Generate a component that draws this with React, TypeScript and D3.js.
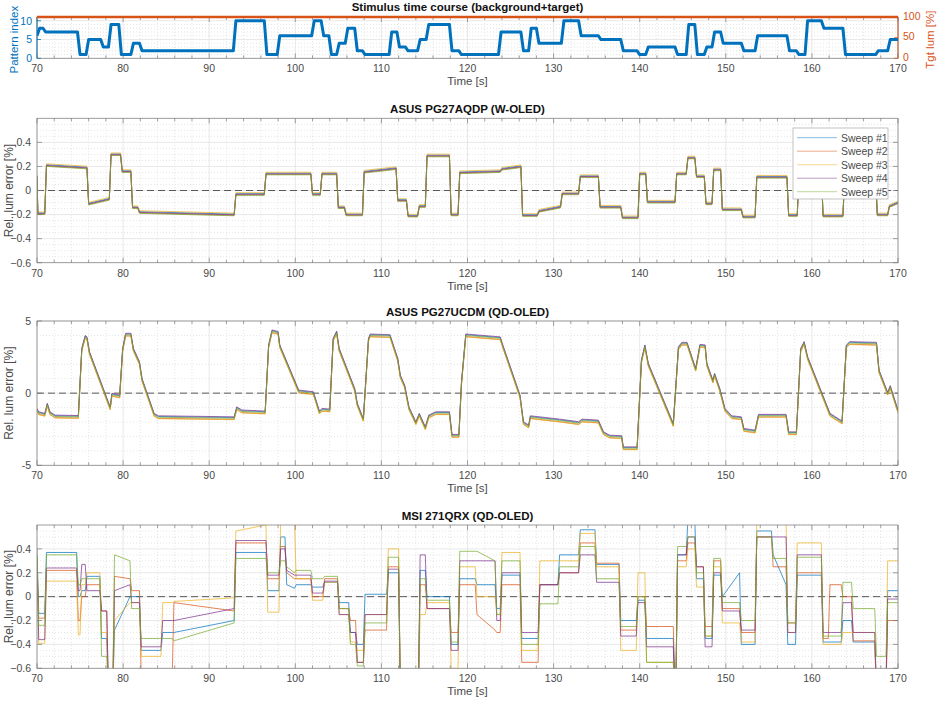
import React from "react";
import * as d3 from "d3";

const W = 938;
const H = 702;
const X0 = 37;
const X1 = 898;
const FONT = "'Liberation Sans', Arial, Helvetica, sans-serif";

const xTicks = [70, 80, 90, 100, 110, 120, 130, 140, 150, 160, 170];
const sweepNames = ["Sweep #1", "Sweep #2", "Sweep #3", "Sweep #4", "Sweep #5"];
const sweepColors = ["#0072BD", "#D95319", "#EDB120", "#7E2F8E", "#77AC30"];

type Lv = number | [number, number];

// stimulus: pattern index per segment (segment start times in s)
const stimStart = [70.0, 70.3, 71.0, 75.0, 76.0, 77.7, 78.6, 79.8, 81.2, 82.2, 93.1, 96.7, 98.2, 102.2, 103.3, 104.2, 105.1, 106.1, 107.2, 108.1, 111.2, 112.1, 113.1, 114.5, 115.5, 118.2, 119.3, 123.9, 126.5, 127.4, 128.3, 131.2, 133.2, 135.5, 138.1, 140.0, 141.0, 144.4, 145.7, 146.7, 147.8, 148.7, 149.7, 152.1, 153.7, 157.4, 158.5, 159.5, 161.4, 163.9, 167.7, 169.1];
const stimIndex = [6, 8, 7, 1, 5, 3, 9, 1, 4, 2, 10, 1, 6, 10, 6, 1, 4, 8, 2, 1, 7, 3, 2, 5, 9, 2, 1, 7, 2, 8, 4, 10, 6, 5, 2, 1, 3, 1, 9, 1, 3, 7, 4, 2, 6, 2, 1, 10, 8, 1, 2, 5];
const tgtLum = 100;

// ASUS PG27AQDP (W-OLED)
const woledStart = [70.0, 70.1, 71.1, 76.0, 78.6, 79.9, 81.1, 81.9, 93.1, 96.6, 102.0, 103.1, 105.0, 105.9, 108.0, 111.9, 113.1, 114.4, 115.3, 118.1, 119.1, 124.0, 126.4, 128.3, 131.0, 133.1, 135.4, 138.0, 140.0, 140.9, 144.3, 145.6, 146.6, 147.7, 148.6, 149.6, 152.0, 153.6, 157.3, 158.5, 161.3, 163.8, 167.6, 169.0];
const woledLevel: Lv[] = [0.12, -0.19, [0.21, 0.19], [-0.11, -0.07], 0.3, 0.16, -0.14, [-0.18, -0.2], -0.03, 0.14, -0.03, 0.14, -0.14, -0.2, [0.155, 0.185], -0.08, -0.21, -0.13, 0.29, -0.2, [0.15, 0.16], [0.18, 0.2], -0.205, [-0.17, -0.135], -0.025, 0.118, -0.136, -0.224, 0.14, -0.094, 0.14, 0.273, 0.118, -0.108, 0.174, -0.157, -0.218, 0.113, -0.205, 0.15, -0.21, 0.1, -0.2, [-0.13, -0.1]];
const woledSweepOffset = [0.004, -0.006, 0.012, -0.002, -0.01];

// ASUS PG27UCDM (QD-OLED)
const qdTime = [70.0, 70.2, 70.9, 71.2, 71.5, 72.1, 74.8, 75.2, 75.6, 75.8, 76.1, 78.5, 78.7, 79.6, 79.95, 80.3, 80.9, 81.2, 81.9, 82.2, 83.6, 84.1, 92.9, 93.2, 93.8, 96.5, 96.9, 97.3, 98.0, 98.2, 100.4, 102.1, 102.8, 103.1, 104.0, 104.4, 104.8, 105.1, 106.9, 107.2, 107.9, 108.5, 108.7, 111.0, 111.9, 112.2, 112.7, 113.2, 114.0, 114.4, 115.1, 115.5, 116.3, 117.9, 118.2, 119.0, 119.3, 119.8, 123.8, 124.1, 126.1, 126.5, 127.1, 127.3, 130.7, 132.9, 133.3, 135.2, 135.8, 136.5, 137.9, 138.1, 139.7, 140.2, 140.6, 141.0, 143.9, 144.5, 144.9, 145.5, 146.5, 147.0, 147.6, 147.8, 148.5, 148.7, 149.3, 149.9, 150.7, 151.8, 152.1, 153.4, 153.8, 157.0, 157.3, 158.2, 158.7, 159.1, 159.5, 162.1, 163.5, 164.0, 164.4, 167.5, 167.8, 168.8, 169.1, 170.0];
const qdValue = [-1.16, -1.39, -1.5, -0.8, -1.39, -1.62, -1.65, 3.0, 3.9, 3.8, 2.77, -1.05, -0.11, -0.23, 3.0, 4.05, 4.05, 3.0, 2.08, 0.92, -1.5, -1.67, -1.74, -1.05, -1.27, -1.34, 3.24, 4.28, 4.17, 3.24, 0.11, 0.0, -1.34, -1.16, -1.2, 3.7, 4.2, 3.0, 0.23, -0.8, -1.85, 3.7, 4.0, 3.95, 2.31, 1.15, 0.46, -1.05, -2.08, -1.5, -2.43, -1.62, -1.39, -1.39, -2.96, -2.96, 0.69, 4.0, 3.8, 3.24, -0.23, -2.08, -2.31, -1.67, -1.9, -2.08, -1.9, -1.97, -2.78, -3.01, -3.05, -3.82, -3.82, 2.2, 3.24, 1.97, -2.2, 3.12, 3.42, 3.42, 1.62, 3.28, 3.24, 1.97, 0.81, 1.27, 0.23, -1.16, -1.67, -1.74, -2.55, -2.66, -1.57, -1.57, -2.78, -2.78, 3.0, 3.47, 2.43, -1.5, -2.03, 3.24, 3.47, 3.42, 1.5, -0.04, 0.42, -1.27];
const qdSweepOffset = [0.05, -0.08, -0.1, 0.1, 0.0];

// MSI 271QRX (QD-OLED), one level per segment and sweep
const msiStart = [70.0, 70.2, 71.1, 74.8, 75.2, 75.8, 77.5, 78.3, 79.0, 81.0, 82.1, 84.6, 85.9, 93.1, 96.8, 98.3, 99.0, 100.1, 102.0, 103.4, 105.1, 106.4, 107.2, 108.1, 110.8, 112.2, 114.5, 115.3, 118.1, 119.1, 121.1, 123.4, 124.0, 126.3, 128.4, 130.7, 133.1, 135.0, 137.8, 139.8, 140.8, 144.1, 144.4, 145.6, 146.6, 147.6, 148.6, 149.6, 151.8, 153.6, 155.5, 157.2, 158.3, 161.3, 162.1, 163.6, 164.8, 167.5, 168.8];
const msiSweep1: Lv[] = [0.35, -0.14, 0.37, 0.0, 0.05, 0.17, -0.35, -0.8, [-0.28, 0.0], 0.0, -0.45, -0.3, [-0.3, -0.2], 0.37, 0.05, 0.5, [0.1, 0.07], 0.1, 0.08, 0.12, -0.05, -0.3, -0.4, 0.02, 0.2, -0.8, 0.22, 0.0, -0.4, 0.15, 0.1, -0.1, 0.18, -0.35, 0.1, 0.35, 0.56, 0.27, -0.2, -0.03, -0.35, -0.8, 0.35, 0.65, 0.15, -0.35, 0.18, [0.0, 0.2], -0.4, 0.55, [0.35, 0.1], -0.4, 0.18, -0.38, -0.38, -0.2, -0.38, -0.8, 0.05];
const msiSweep2: Lv[] = [0.3, -0.18, 0.22, -0.2, 0.0, 0.1, -0.12, -0.8, [0.17, 0.15], 0.05, -0.65, -0.7, [-0.05, -0.12], 0.45, 0.15, 0.42, [0.2, 0.15], 0.15, 0.0, 0.15, -0.1, -0.2, -0.55, -0.28, 0.25, -0.8, 0.1, -0.1, -0.3, 0.1, [-0.15, -0.28], -0.3, 0.1, -0.55, 0.1, 0.2, 0.45, 0.28, -0.28, 0.0, -0.25, -0.8, 0.3, 0.45, 0.25, -0.25, 0.3, -0.1, -0.3, 0.5, 0.25, -0.22, 0.2, -0.35, 0.1, 0.0, -0.37, -0.8, -0.2];
const msiSweep3: Lv[] = [0.2, -0.39, 0.13, -0.32, 0.1, 0.2, -0.3, -0.8, [-0.2, -0.05], -0.05, -0.5, -0.05, [-0.04, -0.01], [0.55, 0.6], -0.13, 0.65, 0.65, 0.15, -0.03, 0.12, -0.15, -0.38, -0.45, -0.15, 0.4, -0.8, -0.15, -0.05, -0.6, 0.25, 0.0, -0.15, 0.37, -0.45, 0.3, 0.3, 0.53, 0.25, -0.45, 0.2, -0.55, -0.8, 0.25, 0.4, 0.08, -0.33, 0.25, -0.22, -0.38, 0.65, 0.65, -0.3, 0.45, -0.4, -0.4, -0.3, -0.3, -0.8, 0.3];
const msiSweep4: Lv[] = [0.3, -0.36, 0.24, 0.05, 0.27, 0.05, -0.12, -0.8, [0.05, 0.1], -0.05, -0.42, -0.2, [-0.2, -0.1], 0.47, 0.18, 0.4, [0.22, 0.18], 0.18, 0.03, 0.13, -0.15, -0.3, -0.55, -0.15, 0.23, -0.8, 0.35, -0.1, -0.45, 0.3, 0.3, -0.2, 0.2, -0.3, 0.1, 0.2, 0.35, 0.12, -0.33, -0.05, -0.42, -0.8, 0.35, 0.5, 0.25, -0.42, 0.2, -0.12, -0.28, 0.5, 0.5, -0.3, 0.35, -0.3, -0.3, -0.05, -0.3, -0.8, -0.02];
const msiSweep5: Lv[] = [0.4, -0.24, 0.35, 0.1, 0.15, 0.15, -0.5, -0.8, [0.35, 0.3], -0.1, -0.35, -0.35, [-0.37, -0.22], 0.32, 0.2, 0.3, [0.25, 0.2], 0.22, 0.15, 0.17, -0.1, -0.4, -0.58, -0.22, 0.33, -0.8, 0.15, -0.03, -0.38, 0.38, [0.38, 0.3], -0.15, 0.3, -0.4, -0.06, 0.25, 0.42, 0.15, -0.25, 0.0, -0.55, -0.8, 0.42, 0.5, 0.2, -0.33, 0.32, -0.05, -0.2, 0.5, 0.32, -0.22, 0.33, -0.33, -0.33, 0.12, -0.1, -0.5, -0.05];
const msiSweeps = [msiSweep1, msiSweep2, msiSweep3, msiSweep4, msiSweep5];

const x = d3.scaleLinear().domain([70, 170]).range([X0, X1]);

function stepPoints(starts: number[], levels: Lv[], ramp: number): [number, number][] {
  const pts: [number, number][] = [];
  starts.forEach((t0, i) => {
    const lv = levels[i];
    const a = Array.isArray(lv) ? lv[0] : lv;
    const b = Array.isArray(lv) ? lv[1] : lv;
    const t1 = i + 1 < starts.length ? starts[i + 1] - ramp : 170;
    pts.push([t0, a], [Math.max(t1, t0), b]);
  });
  return pts;
}

type Series = { color: string; width: number; points: [number, number][] };

type PanelProps = {
  id: string;
  top: number;
  bottom: number;
  domain: [number, number];
  ticks: number[];
  fmt: (v: number) => string;
  minorStep: number;
  title: string;
  series: Series[];
  legend?: boolean;
};

function Grid({ y, top, bottom, ticks, minorY }) {
  const minorX = d3.range(72, 170, 2).filter((v) => v % 10 !== 0);
  return (
    <g>
      {minorX.map((v) => (
        <line key={"mx" + v} x1={x(v)} x2={x(v)} y1={top} y2={bottom} stroke="#d4d4d4" strokeWidth={0.6} strokeDasharray="1,2" />
      ))}
      {minorY.map((v) => (
        <line key={"my" + v} x1={X0} x2={X1} y1={y(v)} y2={y(v)} stroke="#d4d4d4" strokeWidth={0.6} strokeDasharray="1,2" />
      ))}
      {xTicks.map((v) => (
        <line key={"gx" + v} x1={x(v)} x2={x(v)} y1={top} y2={bottom} stroke="#e2e2e2" strokeWidth={0.8} />
      ))}
      {ticks.map((v) => (
        <line key={"gy" + v} x1={X0} x2={X1} y1={y(v)} y2={y(v)} stroke="#e2e2e2" strokeWidth={0.8} />
      ))}
    </g>
  );
}

function XAxis({ top, bottom, labelOffset }) {
  const minorX = d3.range(72, 170, 2).filter((v) => v % 10 !== 0);
  return (
    <g>
      {minorX.map((v) => (
        <g key={"mt" + v}>
          <line x1={x(v)} x2={x(v)} y1={bottom} y2={bottom - 3} stroke="#7a7a7a" strokeWidth={0.7} />
          <line x1={x(v)} x2={x(v)} y1={top} y2={top + 3} stroke="#7a7a7a" strokeWidth={0.7} />
        </g>
      ))}
      {xTicks.map((v) => (
        <g key={"xt" + v}>
          <line x1={x(v)} x2={x(v)} y1={bottom} y2={bottom - 5} stroke="#7a7a7a" strokeWidth={0.7} />
          <line x1={x(v)} x2={x(v)} y1={top} y2={top + 5} stroke="#7a7a7a" strokeWidth={0.7} />
          <text x={x(v)} y={bottom + labelOffset} textAnchor="middle" fontSize={10.5} fill="#4a4a4a">
            {v}
          </text>
        </g>
      ))}
      <text x={(X0 + X1) / 2} y={bottom + labelOffset + 13} textAnchor="middle" fontSize={11.5} fill="#4a4a4a">
        Time [s]
      </text>
    </g>
  );
}

function Panel({ id, top, bottom, domain, ticks, fmt, minorStep, title, series, legend }: PanelProps) {
  const y = d3.scaleLinear().domain(domain).range([bottom, top]);
  const minorY = d3
    .range(domain[0], domain[1] + 1e-9, minorStep)
    .filter((v) => !ticks.some((t) => Math.abs(t - v) < 1e-9));
  const line = d3
    .line<[number, number]>()
    .x((d) => x(d[0]))
    .y((d) => y(d[1]));
  return (
    <g>
      <defs>
        <clipPath id={id}>
          <rect x={X0} y={top} width={X1 - X0} height={bottom - top} />
        </clipPath>
      </defs>
      <rect x={X0} y={top} width={X1 - X0} height={bottom - top} fill="#fff" />
      <Grid y={y} top={top} bottom={bottom} ticks={ticks} minorY={minorY} />
      <line x1={X0} x2={X1} y1={y(0)} y2={y(0)} stroke="#333" strokeWidth={0.8} strokeDasharray="7,4" />
      <g clipPath={`url(#${id})`}>
        {series.map((s, i) => (
          <path key={i} d={line(s.points) || ""} fill="none" stroke={s.color} strokeWidth={s.width} strokeLinejoin="round" opacity={0.9} />
        ))}
      </g>
      <rect x={X0} y={top} width={X1 - X0} height={bottom - top} fill="none" stroke="#8a8a8a" strokeWidth={0.8} />
      {ticks.map((v) => (
        <g key={"yt" + v}>
          <line x1={X0} x2={X0 + 5} y1={y(v)} y2={y(v)} stroke="#7a7a7a" strokeWidth={0.7} />
          <line x1={X1} x2={X1 - 5} y1={y(v)} y2={y(v)} stroke="#7a7a7a" strokeWidth={0.7} />
          <text x={X0 - 6} y={y(v) + 3.8} textAnchor="end" fontSize={10.5} fill="#4a4a4a">
            {fmt(v)}
          </text>
        </g>
      ))}
      <XAxis top={top} bottom={bottom} labelOffset={14} />
      <text x={(X0 + X1) / 2} y={top - 5} textAnchor="middle" fontSize={11.5} fontWeight="bold" fill="#111">
        {title}
      </text>
      <text transform={`translate(13,${(top + bottom) / 2}) rotate(-90)`} textAnchor="middle" fontSize={12} fill="#4a4a4a">
        Rel. lum error [%]
      </text>
      {legend && (
        <g>
          <rect x={793} y={128} width={95} height={71} fill="#fff" stroke="#b4b4b4" strokeWidth={0.8} />
          {sweepNames.map((n, i) => (
            <g key={n}>
              <line x1={797} x2={837} y1={137.7 + i * 13.5} y2={137.7 + i * 13.5} stroke={sweepColors[i]} strokeWidth={0.8} opacity={0.6} />
              <text x={841} y={141.5 + i * 13.5} fontSize={10.5} fill="#4a4a4a">
                {n}
              </text>
            </g>
          ))}
        </g>
      )}
    </g>
  );
}

function StimulusPanel() {
  const top = 17;
  const bottom = 58.3;
  const yL = d3.scaleLinear().domain([0, 11]).range([bottom, top]);
  const yR = d3.scaleLinear().domain([0, 100]).range([bottom, top]);
  const minorY = d3.range(1, 11, 1).filter((v) => v % 5 !== 0);
  const pts = stepPoints(stimStart, stimIndex, 0.3);
  const line = d3
    .line<[number, number]>()
    .x((d) => x(d[0]))
    .y((d) => yL(d[1]));
  const blue = "#0072BD";
  const red = "#D95319";
  return (
    <g>
      <defs>
        <clipPath id="clipStim">
          <rect x={X0} y={top - 3} width={X1 - X0} height={bottom - top + 3} />
        </clipPath>
      </defs>
      <Grid y={yL} top={top} bottom={bottom} ticks={[0, 5, 10]} minorY={minorY} />
      <rect x={X0} y={top} width={X1 - X0} height={bottom - top} fill="none" stroke="#8a8a8a" strokeWidth={0.8} />
      <line x1={X0} x2={X0} y1={top} y2={bottom} stroke={blue} strokeWidth={0.9} />
      <line x1={X1} x2={X1} y1={top} y2={bottom} stroke={red} strokeWidth={0.9} />
      <XAxis top={top} bottom={bottom} labelOffset={13.4} />
      <g clipPath="url(#clipStim)">
        <path d={line(pts) || ""} fill="none" stroke={blue} strokeWidth={3} strokeLinejoin="round" />
        <line x1={x(70)} x2={x(170)} y1={yR(tgtLum)} y2={yR(tgtLum)} stroke={red} strokeWidth={2.6} />
      </g>
      {[0, 5, 10].map((v) => (
        <g key={"l" + v}>
          <line x1={X0} x2={X0 + 4} y1={yL(v)} y2={yL(v)} stroke={blue} strokeWidth={0.8} />
          <text x={X0 - 5} y={yL(v) + 3.8} textAnchor="end" fontSize={10.5} fill={blue}>
            {v}
          </text>
        </g>
      ))}
      {[0, 50, 100].map((v) => (
        <g key={"r" + v}>
          <line x1={X1} x2={X1 - 4} y1={yR(v)} y2={yR(v)} stroke={red} strokeWidth={0.8} />
          <text x={X1 + 5} y={yR(v) + 2.8} textAnchor="start" fontSize={10.5} fill={red}>
            {v}
          </text>
        </g>
      ))}
      <text x={(X0 + X1) / 2} y={11} textAnchor="middle" fontSize={11.5} fontWeight="bold" fill="#111">
        Stimulus time course (background+target)
      </text>
      <text transform={`translate(18,${(top + bottom) / 2 + 2}) rotate(-90)`} textAnchor="middle" fontSize={11.5} fill={blue}>
        Pattern index
      </text>
      <text transform={`translate(934,${(top + bottom) / 2 + 2}) rotate(-90)`} textAnchor="middle" fontSize={11.5} fill={red}>
        Tgt lum [%]
      </text>
    </g>
  );
}

const fmtDec = (v: number) => (v === 0 ? "0" : d3.format(".1f")(v));
const fmtInt = (v: number) => String(v);

export default function App() {
  const woled: Series[] = woledSweepOffset.map((off, k) => ({
    color: sweepColors[k],
    width: 0.8,
    points: stepPoints(woledStart, woledLevel, 0.2).map(([t, v]) => [t, v + off] as [number, number]),
  }));
  const qdPts = qdTime.map((t, i) => [t, qdValue[i]] as [number, number]);
  const qd: Series[] = qdSweepOffset.map((off, k) => ({
    color: sweepColors[k],
    width: 0.8,
    points: qdPts.map(([t, v]) => [t, v + off] as [number, number]),
  }));
  const msi: Series[] = msiSweeps.map((lv, k) => ({
    color: sweepColors[k],
    width: 0.8,
    points: stepPoints(msiStart, lv, 0.2),
  }));
  return (
    <div style={{ position: "absolute", left: 0, top: 0 }}>
      <svg width={W} height={H} style={{ display: "block", fontFamily: FONT, background: "#fff" }}>
        <rect width={W} height={H} fill="#fff" />
        <StimulusPanel />
        <Panel
          id="clipW"
          top={118.3}
          bottom={262.7}
          domain={[-0.6, 0.6]}
          ticks={[-0.6, -0.4, -0.2, 0, 0.2, 0.4]}
          fmt={fmtDec}
          minorStep={0.05}
          title="ASUS PG27AQDP (W-OLED)"
          series={woled}
          legend
        />
        <Panel
          id="clipQ"
          top={321}
          bottom={465.3}
          domain={[-5, 5]}
          ticks={[-5, 0, 5]}
          fmt={fmtInt}
          minorStep={1}
          title="ASUS PG27UCDM (QD-OLED)"
          series={qd}
        />
        <Panel
          id="clipM"
          top={525}
          bottom={668.3}
          domain={[-0.6, 0.6]}
          ticks={[-0.6, -0.4, -0.2, 0, 0.2, 0.4]}
          fmt={fmtDec}
          minorStep={0.05}
          title="MSI 271QRX (QD-OLED)"
          series={msi}
        />
      </svg>
    </div>
  );
}
